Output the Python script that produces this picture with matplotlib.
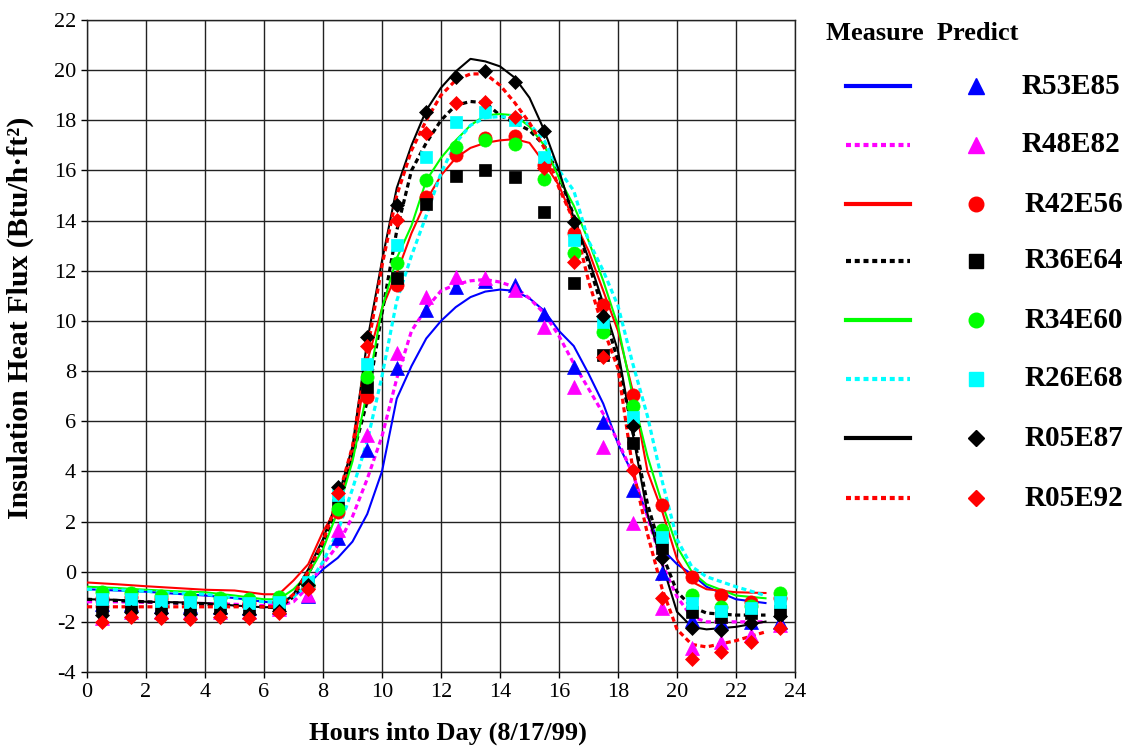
import matplotlib
matplotlib.use("Agg")
import matplotlib.pyplot as plt
from matplotlib.lines import Line2D

plt.rcParams['font.family'] = ['Liberation Serif', 'DejaVu Serif']
plt.rcParams['axes.unicode_minus'] = False

# ---------------- data ----------------
series_names = ["R53E85", "R48E82", "R42E56", "R36E64", "R34E60", "R26E68", "R05E87", "R05E92"]

# measured curves (hours)
hours_meas = [0, 1, 2, 3, 4, 5, 6, 6.5, 7, 7.5, 8, 8.5, 9, 9.5, 10, 10.5, 11, 11.5, 12, 12.5,
              13, 13.5, 14, 14.5, 15, 15.5, 16, 16.5, 17, 17.5, 18, 18.5, 19, 19.5, 20, 20.5,
              21, 22, 23]

meas_R53E85 = [-0.7, -0.75, -0.8, -0.88, -0.95, -1.05, -1.2, -1.25, -1.0, -0.5, 0.1, 0.55, 1.2, 2.3,
               4.0, 6.9, 8.2, 9.3, 10.0, 10.55, 10.95, 11.17, 11.25, 11.2, 10.9, 10.4, 9.6, 9.0,
               7.9, 6.7, 5.1, 3.9, 2.2, 0.9, 0.3, -0.1, -0.6, -1.1, -1.25]
meas_R48E82 = [-1.2, -1.2, -1.22, -1.25, -1.27, -1.3, -1.35, -1.35, -1.2, -0.6, 0.3, 1.05, 2.2, 3.7,
               5.4, 7.7, 9.6, 10.5, 11.2, 11.45, 11.6, 11.65, 11.55, 11.35, 10.9, 10.3, 9.4, 8.3,
               7.3, 6.3, 5.2, 3.9, 2.2, 0.3, -1.0, -1.8, -2.0, -2.0, -2.0]
meas_R42E56 = [-0.43, -0.5, -0.58, -0.65, -0.72, -0.75, -0.9, -0.9, -0.35, 0.3, 1.6, 2.6, 4.6, 8.4,
               10.5, 11.9, 13.5, 14.8, 15.8, 16.5, 16.9, 17.1, 17.2, 17.25, 17.1, 16.3, 15.4, 14.0,
               12.8, 11.2, 9.6, 7.2, 4.0, 2.4, 0.5, -0.4, -0.7, -0.82, -0.85]
meas_R36E64 = [-1.1, -1.15, -1.2, -1.25, -1.3, -1.35, -1.4, -1.45, -1.0, -0.1, 1.1, 2.7, 4.6, 6.8,
               10.3, 13.6, 16.0, 17.1, 18.0, 18.6, 18.75, 18.7, 18.2, 17.9, 17.6, 17.0, 15.8, 14.2,
               12.3, 10.4, 8.4, 5.6, 2.7, 0.7, -0.8, -1.4, -1.65, -1.73, -1.73]
meas_R34E60 = [-0.6, -0.65, -0.72, -0.78, -0.82, -0.95, -1.1, -1.1, -0.7, -0.1, 0.9, 2.4, 4.4, 7.2,
               10.5, 12.5, 13.8, 15.6, 16.5, 17.2, 17.8, 18.2, 18.25, 18.2, 17.75, 17.0, 15.7, 14.6,
               13.2, 11.6, 9.8, 7.0, 4.6, 2.7, 1.0, 0.0, -0.5, -0.95, -1.06]
meas_R26E68 = [-0.7, -0.72, -0.78, -0.85, -0.9, -1.05, -1.2, -1.2, -1.0, -0.5, 0.4, 1.6, 3.3, 5.2,
               7.8, 10.8, 12.6, 14.2, 15.9, 17.1, 17.8, 18.1, 18.15, 18.1, 17.85, 17.2, 16.0, 15.2,
               13.2, 12.0, 10.6, 8.3, 6.2, 3.6, 1.3, 0.2, -0.2, -0.6, -0.95]
meas_R05E87 = [-1.1, -1.12, -1.2, -1.22, -1.25, -1.35, -1.42, -1.4, -0.9, 0.1, 1.3, 2.9, 5.0, 9.2,
               12.4, 15.3, 17.0, 18.4, 19.3, 19.95, 20.45, 20.35, 20.15, 19.7, 18.9, 17.6, 16.0, 14.1,
               12.5, 10.7, 8.8, 5.5, 2.3, 0.3, -1.6, -2.2, -2.3, -2.2, -1.99]
meas_R05E92 = [-1.4, -1.4, -1.4, -1.4, -1.4, -1.4, -1.4, -1.4, -0.9, 0.0, 1.2, 2.9, 5.0, 8.8,
               12.2, 15.0, 16.8, 18.0, 19.0, 19.6, 19.85, 19.85, 19.4, 18.7, 17.9, 16.9, 15.3, 14.0,
               11.6, 9.7, 8.1, 4.1, 1.5, -0.7, -2.3, -2.9, -3.0, -2.75, -2.4]

# predicted points (half hours)
hours_pred = [0.5, 1.5, 2.5, 3.5, 4.5, 5.5, 6.5, 7.5, 8.5, 9.5, 10.5, 11.5, 12.5, 13.5, 14.5,
              15.5, 16.5, 17.5, 18.5, 19.5, 20.5, 21.5, 22.5, 23.5]

pred_R53E85 = [-1.3, -1.3, -1.35, -1.35, -1.4, -1.45, -1.4, -0.95, 1.33, 4.85, 8.11, 10.43, 11.36,
               11.6, 11.43, 10.28, 8.18, 5.98, 3.26, -0.05, -1.92, -2.0, -2.0, -2.0]
pred_R48E82 = [-1.85, -1.6, -1.6, -1.6, -1.6, -1.6, -1.5, -0.93, 1.66, 5.45, 8.71, 10.96, 11.76,
               11.7, 11.23, 9.77, 7.38, 4.99, 1.93, -1.46, -3.05, -2.79, -2.52, -2.12]
pred_R42E56 = [-1.05, -1.0, -1.1, -1.25, -1.25, -1.25, -1.19, -0.6, 2.39, 6.97, 11.44, 14.93, 16.62,
               17.31, 17.37, 16.22, 13.52, 10.64, 7.05, 2.66, -0.2, -0.93, -1.2, -1.06]
pred_R36E64 = [-1.39, -1.35, -1.4, -1.45, -1.45, -1.5, -1.45, -0.45, 2.66, 7.37, 11.71, 14.66, 15.78,
               16.02, 15.75, 14.36, 11.5, 8.64, 5.12, 0.93, -1.59, -1.79, -1.66, -1.55]
pred_R34E60 = [-0.8, -0.85, -0.95, -1.0, -1.05, -1.1, -1.0, -0.55, 2.5, 7.77, 12.3, 15.62, 16.92,
               17.2, 17.05, 15.65, 12.7, 9.57, 6.6, 1.66, -0.93, -1.39, -1.35, -0.86]
pred_R26E68 = [-1.1, -1.1, -1.15, -1.2, -1.2, -1.25, -1.2, -0.4, 3.06, 8.27, 13.03, 16.55, 17.95,
               18.35, 18.0, 16.55, 13.23, 9.97, 6.16, 1.4, -1.26, -1.55, -1.46, -1.2]
pred_R05E87 = [-1.72, -1.6, -1.65, -1.7, -1.65, -1.7, -1.55, -0.55, 3.39, 9.37, 14.64, 18.34, 19.74,
               19.97, 19.54, 17.59, 13.96, 10.2, 5.79, 0.55, -2.25, -2.34, -2.06, -1.75]
pred_R05E92 = [-2.0, -1.79, -1.85, -1.89, -1.81, -1.85, -1.65, -0.7, 3.15, 9.01, 14.03, 17.51, 18.7,
               18.74, 18.12, 16.1, 12.36, 8.57, 4.06, -1.06, -3.49, -3.19, -2.79, -2.26]

x_ticks = list(range(0, 25, 2))
y_ticks = list(range(-4, 23, 2))

# ---------------- styles ----------------
colors = ["#0000FF", "#FF00FF", "#FF0000", "#000000", "#00FF00", "#00FFFF", "#000000", "#FF0000"]
dotted = [False, True, False, True, False, True, False, True]
markers = ["^", "^", "o", "s", "o", "s", "D", "D"]
msizes = [10, 10, 9.5, 9, 9.5, 9, 7.5, 7.5]
meas = [meas_R53E85, meas_R48E82, meas_R42E56, meas_R36E64, meas_R34E60, meas_R26E68, meas_R05E87, meas_R05E92]
pred = [pred_R53E85, pred_R48E82, pred_R42E56, pred_R36E64, pred_R34E60, pred_R26E68, pred_R05E87, pred_R05E92]

W, H = 1129, 749
fig = plt.figure(figsize=(W / 100, H / 100), dpi=100)
ax = fig.add_axes([87 / W, 1 - 672 / H, (795 - 87) / W, (672 - 20) / H])

dash = (0, (1.6, 1.1))
for i in range(len(series_names)):
    ls = dash if dotted[i] else '-'
    lw = 2.3 if dotted[i] else 1.5
    ax.plot(hours_meas, meas[i], color=colors[i], linestyle=ls, lw=lw, zorder=3)
for i in range(len(series_names)):
    ax.plot(hours_pred, pred[i], linestyle='none', marker=markers[i], ms=msizes[i],
            color=colors[i], markeredgecolor=colors[i], markeredgewidth=0.5, zorder=4)

ax.set_xlim(0, 24)
ax.set_ylim(-4, 22)
ax.set_xticks(x_ticks)
ax.set_yticks(y_ticks)
ax.grid(True, color='#222222', lw=1.0)
ax.set_axisbelow(True)
for s in ax.spines.values():
    s.set_color('#222222')
    s.set_linewidth(1.0)
ax.tick_params(axis='both', labelsize=16, length=4, width=1.0, direction='out', pad=4)
ax.set_xlabel("Hours into Day (8/17/99)", fontsize=19, fontweight='bold', va='center')
ax.set_ylabel("Insulation Heat Flux (Btu/h\u00b7ft\u00b2)", fontsize=21.5, fontweight='bold',
              va='center')
ax.xaxis.set_label_coords(0.51, -0.0936)
ax.yaxis.set_label_coords(-0.094, 0.543)

# ---------------- legend ----------------
fig.text(826 / W, 1 - 33 / H, "Measure  Predict", fontsize=19, fontweight='bold',
         ha='left', va='center')
row_y = [86, 145, 204, 261, 320, 379, 438, 498]
label_x = [1022, 1022, 1025, 1025, 1025, 1025, 1025, 1025]
for i, name in enumerate(series_names):
    yf = 1 - row_y[i] / H
    fig.add_artist(Line2D([846 / W, 910 / W], [yf, yf], transform=fig.transFigure,
                          color=colors[i], linestyle=(0, (1.2, 0.9)) if dotted[i] else '-',
                          lw=3.0))
    fig.add_artist(Line2D([976 / W], [yf], transform=fig.transFigure, linestyle='none',
                          marker=markers[i], ms=msizes[i] + 1, color=colors[i]))
    fig.text(label_x[i] / W, yf, name, fontsize=21, fontweight='bold', ha='left', va='center')

fig.savefig("out.png", dpi=100)
